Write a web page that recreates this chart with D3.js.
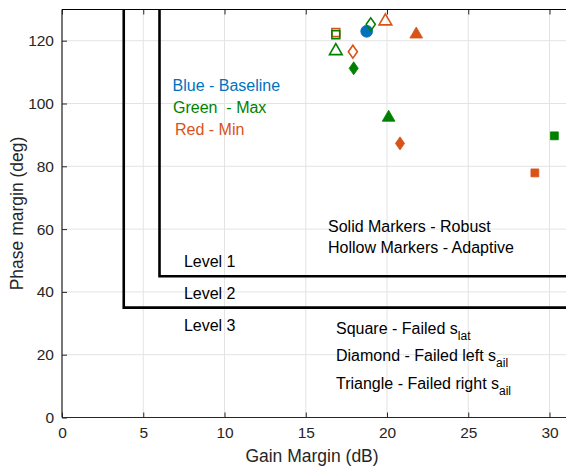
<!DOCTYPE html>
<html>
<head>
<meta charset="utf-8">
<script src="https://cdn.jsdelivr.net/npm/d3@7"></script>
<style>
  html, body { margin: 0; padding: 0; background: #fff; }
  svg { display: block; font-family: "Liberation Sans", Arial, Helvetica, sans-serif; }
</style>
</head>
<body>
<svg id="chart" width="566" height="468"></svg>
<script>
// Gain / phase margins for each controller variant
const gainMargin  = [18.75, 19.0, 19.9, 21.8, 16.85, 16.85, 16.85, 17.9, 17.95, 20.1, 20.8, 30.3, 29.1];
const phaseMargin = [123.0, 125.2, 126.7, 122.5, 122.6, 121.9, 117.2, 116.5, 111.2, 96.0, 87.3, 89.7, 77.9];
const markerSeries = ["base", "max", "min", "min", "min", "max", "max", "min", "max", "max", "min", "max", "min"];
const markerShape  = ["circle", "diamond", "triangle", "triangle", "square", "square", "triangle", "diamond", "diamond", "triangle", "diamond", "square", "square"];
const markerSolid  = [true, false, false, true, false, false, false, false, true, true, true, true, true];

// Requirement levels: corner of each boundary (gain dB, phase deg)
const levelGain  = [6, 3.8];
const levelPhase = [45, 35];
const levelNames = ["Level 1", "Level 2", "Level 3"];
const levelLabelPhase = [49.7, 39.6, 29.6];

const xTicks = [0, 5, 10, 15, 20, 25, 30];
const yTicks = [0, 20, 40, 60, 80, 100, 120];

const seriesColor = { base: "#0072BD", max: "#008000", min: "#D95319" };

const svg = d3.select("#chart");
const plotLeft = 62, plotRight = 566, plotTop = 9.5, plotBottom = 417.5;

const x = d3.scaleLinear().domain([0, 31]).range([plotLeft, plotLeft + 31 * 16.25]);
const y = d3.scaleLinear().domain([0, 130]).range([plotBottom, plotBottom - 130 * 3.14]);

const axisColor = "#262626";

// Grid
const grid = svg.append("g");
grid.selectAll(".gx").data(xTicks).join("line")
  .attr("x1", d => x(d)).attr("x2", d => x(d))
  .attr("y1", y(0)).attr("y2", y(130))
  .attr("stroke", "#e3e3e3").attr("stroke-width", 1);
grid.selectAll(".gy").data(yTicks).join("line")
  .attr("x1", x(0)).attr("x2", plotRight)
  .attr("y1", d => y(d)).attr("y2", d => y(d))
  .attr("stroke", "#e3e3e3").attr("stroke-width", 1);

// Requirement boundaries
const bounds = svg.append("g");
levelGain.forEach((g, i) => {
  const p = levelPhase[i];
  bounds.append("path")
    .attr("d", d3.line()([[x(g), y(130)], [x(g), y(p)], [plotRight + 5, y(p)]]))
    .attr("fill", "none").attr("stroke", "#000").attr("stroke-width", 2.6);
});

// Axes (ticks drawn inward)
const xAxis = d3.axisBottom(x).tickValues(xTicks).tickSize(-5).tickPadding(9).tickFormat(d3.format("d"));
const yAxis = d3.axisLeft(y).tickValues(yTicks).tickSize(-5).tickPadding(8).tickFormat(d3.format("d"));
const xTop = d3.axisTop(x).tickValues(xTicks).tickSize(-5).tickFormat("");

const gx = svg.append("g").attr("transform", `translate(0,${plotBottom})`).call(xAxis);
const gy = svg.append("g").attr("transform", `translate(${plotLeft},0)`).call(yAxis);
const gt = svg.append("g").attr("transform", `translate(0,${plotTop})`).call(xTop);
[gx, gy, gt].forEach(g => {
  g.select(".domain").remove();
  g.selectAll(".tick line").attr("stroke", axisColor);
  g.selectAll(".tick text").attr("fill", axisColor).attr("font-size", 15.5)
    .attr("font-family", "'Liberation Sans', Arial, sans-serif");
});
svg.append("line").attr("x1", plotLeft).attr("x2", plotRight).attr("y1", plotBottom).attr("y2", plotBottom)
  .attr("stroke", axisColor).attr("stroke-width", 1.2);
svg.append("line").attr("x1", plotLeft).attr("x2", plotLeft).attr("y1", plotBottom).attr("y2", plotTop)
  .attr("stroke", axisColor).attr("stroke-width", 1.2);
svg.append("line").attr("x1", plotLeft).attr("x2", plotRight).attr("y1", plotTop).attr("y2", plotTop)
  .attr("stroke", "#000").attr("stroke-width", 1.2);

// Axis titles
svg.append("text").attr("x", (plotLeft + 566) / 2 - 2).attr("y", 462)
  .attr("text-anchor", "middle").attr("font-size", 17.5).attr("fill", axisColor)
  .text("Gain Margin (dB)");
svg.append("text").attr("transform", `translate(23,${(plotTop + plotBottom) / 2}) rotate(-90)`)
  .attr("text-anchor", "middle").attr("font-size", 17.5).attr("fill", axisColor)
  .text("Phase margin (deg)");

// Level labels
svg.append("g").selectAll("text").data(levelNames).join("text")
  .attr("x", x(7.5)).attr("y", (d, i) => y(levelLabelPhase[i]) + 6)
  .attr("font-size", 16).attr("fill", "#000").text(d => d);

// Markers: MATLAB-like diamond (narrower than tall)
const matDiamond = {
  draw(ctx, size) {
    const h = Math.sqrt(size) * 0.84, w = h * 0.7;
    ctx.moveTo(0, -h); ctx.lineTo(w, 0); ctx.lineTo(0, h); ctx.lineTo(-w, 0); ctx.closePath();
  }
};
const symbolType = { circle: d3.symbolCircle, square: d3.symbolSquare, triangle: d3.symbolTriangle, diamond: matDiamond };
const symbolSize = { circle: 110, square: 62, triangle: 70, diamond: 60 };
const pts = gainMargin.map((g, i) => ({
  g, p: phaseMargin[i], s: markerSeries[i], shape: markerShape[i], solid: markerSolid[i]
}));
svg.append("g").selectAll("path").data(pts).join("path")
  .attr("transform", d => {
    const dy = d.shape === "triangle" ? 1.5 : 0;
    return `translate(${x(d.g)},${y(d.p) + dy})`;
  })
  .attr("d", d => d3.symbol().type(symbolType[d.shape]).size(symbolSize[d.shape])())
  .attr("fill", d => d.solid ? seriesColor[d.s] : "none")
  .attr("stroke", d => seriesColor[d.s])
  .attr("stroke-width", d => d.solid ? 0.8 : 1.6);

// Colour key
const colorKey = [
  { t: "Blue - Baseline", c: seriesColor.base, x: 172.5, y: 91 },
  { t: "Green  - Max", c: seriesColor.max, x: 173, y: 113 },
  { t: "Red - Min", c: seriesColor.min, x: 175, y: 134.5 }
];
svg.append("g").selectAll("text").data(colorKey).join("text")
  .attr("x", d => d.x).attr("y", d => d.y).attr("font-size", 16)
  .attr("fill", d => d.c).style("white-space", "pre").text(d => d.t);

// Marker fill key
const fillKey = ["Solid Markers - Robust", "Hollow Markers - Adaptive"];
svg.append("g").selectAll("text").data(fillKey).join("text")
  .attr("x", 328).attr("y", (d, i) => 231.5 + i * 21.5).attr("font-size", 16)
  .attr("fill", "#000").text(d => d);

// Marker shape key with subscripts
const shapeKey = [
  { main: "Square - Failed s", sub: "lat" },
  { main: "Diamond - Failed left s", sub: "ail" },
  { main: "Triangle - Failed right s", sub: "ail" }
];
const sk = svg.append("g").selectAll("text").data(shapeKey).join("text")
  .attr("x", 336).attr("y", (d, i) => 334 + i * 27.3).attr("font-size", 16).attr("fill", "#000");
sk.append("tspan").text(d => d.main);
sk.append("tspan").attr("dy", 6).attr("font-size", 12).text(d => d.sub);
</script>
</body>
</html>
